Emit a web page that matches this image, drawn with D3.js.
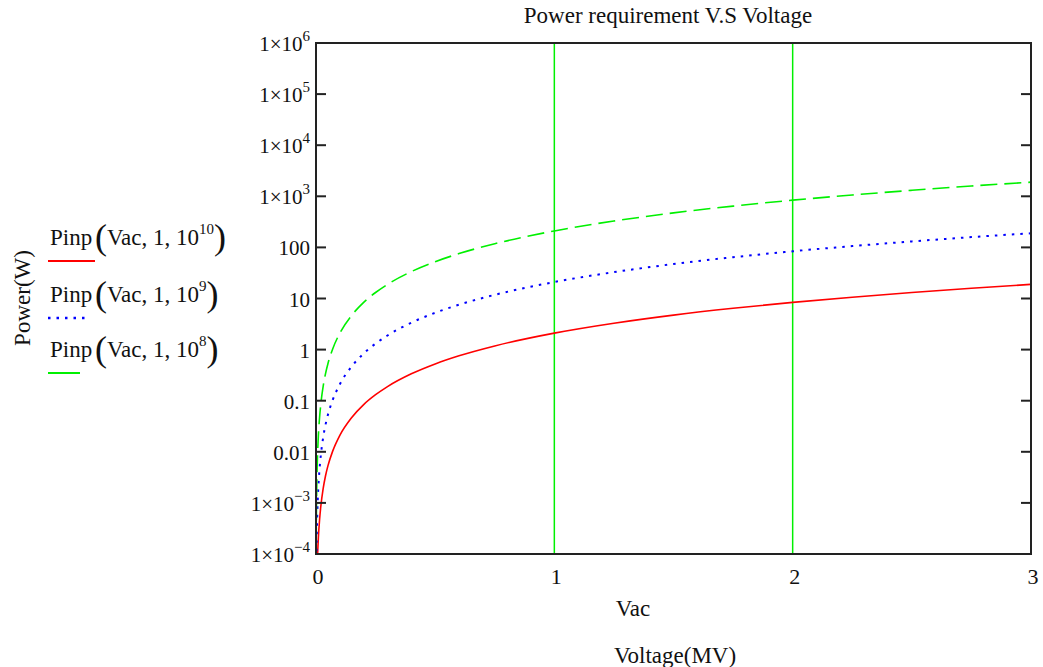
<!DOCTYPE html>
<html>
<head>
<meta charset="utf-8">
<script src="https://cdn.jsdelivr.net/npm/d3@7"></script>
<style>
  body { margin: 0; background: #fff; }
  svg { display: block; font-family: 'Liberation Serif', 'Times New Roman', serif; }
</style>
</head>
<body>
<svg id="chart" width="1043" height="667"></svg>
<script>
// Vac sample points (MV) and the three power curves (W)
const voltage = [0.0005, 0.001, 0.002, 0.003, 0.005, 0.007, 0.01, 0.015, 0.02, 0.03, 0.04, 0.05, 0.07, 0.1,
  0.15, 0.2, 0.25, 0.3, 0.4, 0.5, 0.6, 0.75, 1, 1.25, 1.5, 1.75, 2, 2.25, 2.5, 2.75, 3]
const power1e10 = [5.25e-7, 2.1e-6, 8.4e-6, 1.89e-5, 5.25e-5, 1.03e-4, 2.1e-4, 4.7e-4, 8.4e-4, 1.9e-3, 3.4e-3, 5.3e-3, 0.0103, 0.021,
  0.047, 0.084, 0.131, 0.189, 0.336, 0.525, 0.756, 1.18, 2.1, 3.28, 4.73, 6.43, 8.4, 10.6, 13.1, 15.9, 18.9]
const power1e9 = [5.25e-6, 2.1e-5, 8.4e-5, 1.89e-4, 5.25e-4, 1.03e-3, 2.1e-3, 4.7e-3, 8.4e-3, 0.019, 0.034, 0.053, 0.103, 0.21,
  0.47, 0.84, 1.31, 1.89, 3.36, 5.25, 7.56, 11.8, 21, 32.8, 47.3, 64.3, 84, 106, 131, 159, 189]
const power1e8 = [5.25e-5, 2.1e-4, 8.4e-4, 1.89e-3, 5.25e-3, 0.0103, 0.021, 0.047, 0.084, 0.19, 0.34, 0.53, 1.03, 2.1,
  4.7, 8.4, 13.1, 18.9, 33.6, 52.5, 75.6, 118, 210, 328, 473, 643, 840, 1060, 1310, 1590, 1890]

const xTicks = [0, 1, 2, 3]
const xMarkers = [1, 2]
const yTicks = [1e6, 1e5, 1e4, 1e3, 100, 10, 1, 0.1, 0.01, 1e-3, 1e-4]
const yTickBase = ['1×10', '1×10', '1×10', '1×10', '100', '10', '1', '0.1', '0.01', '1×10', '1×10']
const yTickExp = ['6', '5', '4', '3', '', '', '', '', '', '−3', '−4']

const seriesExp = ['10', '9', '8']
const seriesColor = ['#ff0000', '#0000ff', '#00f000']
const seriesDash = [null, '2.5,6', '17,7']
const seriesData = [power1e10, power1e9, power1e8]

const svg = d3.select('#chart')
const plot = { left: 316, right: 1031, top: 43, bottom: 554 }

const x = d3.scaleLinear().domain([0, 3]).range([plot.left, plot.right])
const y = d3.scaleLog().domain([1e-4, 1e6]).range([plot.bottom, plot.top])

svg.append('defs').append('clipPath')
  .attr('id', 'plotClip')
  .append('rect')
  .attr('x', plot.left)
  .attr('y', plot.top)
  .attr('width', plot.right - plot.left)
  .attr('height', plot.bottom - plot.top)

// green markers at Vac = 1 and 2
svg.append('g')
  .selectAll('line')
  .data(xMarkers)
  .join('line')
  .attr('x1', d => x(d))
  .attr('x2', d => x(d))
  .attr('y1', plot.top)
  .attr('y2', plot.bottom)
  .attr('stroke', '#00f000')
  .attr('stroke-width', 1.5)

// curves
const line = d3.line()
  .x((d, i) => x(voltage[i]))
  .y(d => y(d))
  .curve(d3.curveMonotoneX)

svg.append('g')
  .attr('clip-path', 'url(#plotClip)')
  .selectAll('path')
  .data(seriesData)
  .join('path')
  .attr('d', d => line(d))
  .attr('fill', 'none')
  .attr('stroke', (d, i) => seriesColor[i])
  .attr('stroke-width', (d, i) => i === 1 ? 2 : 1.6)
  .attr('stroke-dasharray', (d, i) => seriesDash[i])

// ticks, both sides pointing inward
const tickG = svg.append('g')
tickG.selectAll('line.l')
  .data(yTicks)
  .join('line')
  .attr('class', 'l')
  .attr('x1', plot.left - 1)
  .attr('x2', plot.left + 10)
  .attr('y1', d => y(d))
  .attr('y2', d => y(d))
  .attr('stroke', '#222')
  .attr('stroke-width', 2)
tickG.selectAll('line.r')
  .data(yTicks)
  .join('line')
  .attr('class', 'r')
  .attr('x1', plot.right - 10)
  .attr('x2', plot.right)
  .attr('y1', d => y(d))
  .attr('y2', d => y(d))
  .attr('stroke', '#222')
  .attr('stroke-width', 2)

// frame
svg.append('rect')
  .attr('x', plot.left)
  .attr('y', plot.top)
  .attr('width', plot.right - plot.left)
  .attr('height', plot.bottom - plot.top)
  .attr('fill', 'none')
  .attr('stroke', '#222')
  .attr('stroke-width', 2)

// y tick labels
const yLab = svg.append('g')
  .attr('font-size', 21)
  .attr('fill', '#111')
  .selectAll('text')
  .data(yTicks)
  .join('text')
  .attr('x', plot.left - 6)
  .attr('y', d => y(d) + 8)
  .attr('text-anchor', 'end')
yLab.append('tspan').text((d, i) => yTickBase[i])
yLab.append('tspan')
  .attr('dy', -10)
  .attr('font-size', 15)
  .text((d, i) => yTickExp[i])

// x tick labels
svg.append('g')
  .attr('font-size', 22)
  .attr('fill', '#111')
  .selectAll('text')
  .data(xTicks)
  .join('text')
  .attr('x', d => x(d) + 2)
  .attr('y', plot.bottom + 30)
  .attr('text-anchor', 'middle')
  .text(d => d)

// titles
svg.append('text')
  .attr('x', 668)
  .attr('y', 23)
  .attr('text-anchor', 'middle')
  .attr('font-size', 23)
  .attr('fill', '#111')
  .text('Power requirement V.S Voltage')

svg.append('text')
  .attr('x', 633)
  .attr('y', 616)
  .attr('text-anchor', 'middle')
  .attr('font-size', 23)
  .attr('fill', '#111')
  .text('Vac')

svg.append('text')
  .attr('x', 675)
  .attr('y', 663)
  .attr('text-anchor', 'middle')
  .attr('font-size', 23)
  .attr('fill', '#111')
  .text('Voltage(MV)')

svg.append('text')
  .attr('transform', 'translate(30,298) rotate(-90)')
  .attr('text-anchor', 'middle')
  .attr('font-size', 23)
  .attr('fill', '#111')
  .text('Power(W)')

// legend
const legendBaseline = [245, 302, 357]
const legendLineEnd = [95, 86, 80]
const legend = svg.append('g')
  .selectAll('g')
  .data(seriesExp)
  .join('g')
  .attr('transform', (d, i) => `translate(0,${legendBaseline[i]})`)

legend.append('text')
  .attr('x', 50)
  .attr('font-size', 23)
  .attr('fill', '#111')
  .text('Pinp')
legend.append('text')
  .attr('x', 95)
  .attr('y', 4)
  .attr('font-size', 23)
  .attr('fill', '#111')
  .call(t => t.append('tspan')
    .attr('font-size', 36)
    .text('('))
  .call(t => t.append('tspan').attr('dy', -4).text('Vac, 1, 10'))
  .call(t => t.append('tspan').attr('dy', -11).attr('font-size', 15).text(d => d))
  .call(t => t.append('tspan').attr('dy', 15).attr('font-size', 36).text(')'))

legend.append('line')
  .attr('x1', 48)
  .attr('x2', (d, i) => legendLineEnd[i])
  .attr('y1', 16)
  .attr('y2', 16)
  .attr('stroke', (d, i) => seriesColor[i])
  .attr('stroke-width', (d, i) => i === 1 ? 2.5 : 2)
  .attr('stroke-dasharray', (d, i) => i === 1 ? '2.5,6' : null)
</script>
</body>
</html>
